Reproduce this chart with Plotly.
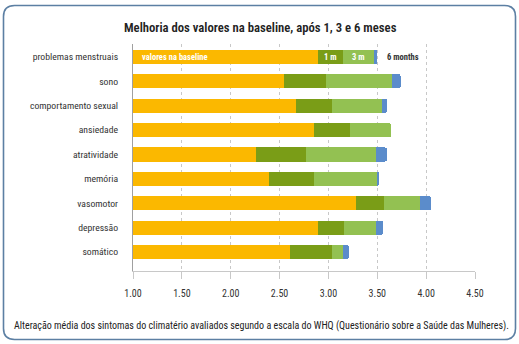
import plotly.graph_objects as go

# WHQ symptom domains, top to bottom
categories = ["problemas menstruais", "sono", "comportamento sexual", "ansiedade",
              "atratividade", "memória", "vasomotor", "depressão", "somático"]
# Mean score at baseline and after 1, 3 and 6 months (cumulative)
baseline = [2.89, 2.55, 2.67, 2.85, 2.26, 2.39, 3.28, 2.89, 2.61]
after_1m = [3.15, 2.98, 3.04, 3.22, 2.77, 2.85, 3.57, 3.16, 3.04]
after_3m = [3.47, 3.65, 3.55, 3.64, 3.49, 3.50, 3.94, 3.49, 3.15]
after_6m = [3.50, 3.74, 3.60, 3.64, 3.60, 3.52, 4.05, 3.56, 3.21]
x_ticks = [1.0, 1.5, 2.0, 2.5, 3.0, 3.5, 4.0, 4.5]

title = "Melhoria dos valores na baseline, após 1, 3 e 6 meses"
caption = ("Alteração média dos sintomas do climatério avaliados segundo a escala do WHQ "
           "(Questionário sobre a Saúde das Mulheres).")

ORANGE, DARK_GREEN, LIGHT_GREEN, BLUE = "#FBB800", "#7A9D17", "#93C152", "#5B8CCB"
FONT = "Liberation Sans Narrow, Roboto Condensed, Roboto, sans-serif"

W, H = 519, 344
L, R, T, B = 133, 44, 44, 73
PW, PH = W - L - R, H - T - B


def px(x, y):
    """Pixel position -> paper coordinates."""
    return (x - L) / PW, (H - B - y) / PH


inc_1m = [a - b for a, b in zip(after_1m, baseline)]
inc_3m = [a - b for a, b in zip(after_3m, after_1m)]
inc_6m = [a - b for a, b in zip(after_6m, after_3m)]

fig = go.Figure()
for name, vals, col in [("baseline", baseline, ORANGE), ("1 m", inc_1m, DARK_GREEN),
                        ("3 m", inc_3m, LIGHT_GREEN), ("6 months", inc_6m, BLUE)]:
    fig.add_trace(go.Bar(y=categories, x=vals, orientation="h", name=name,
                         marker=dict(color=col, line=dict(width=0)),
                         hoverinfo="skip", showlegend=False))

annotations = [
    dict(text="valores na baseline", x=1.07, y=categories[0], xanchor="left",
         font=dict(color="white", size=8.5, family=FONT, weight="bold")),
    dict(text="1 m", x=(baseline[0] + after_1m[0]) / 2, y=categories[0],
         font=dict(color="white", size=8.5, family=FONT, weight="bold")),
    dict(text="3 m", x=(after_1m[0] + after_3m[0]) / 2, y=categories[0],
         font=dict(color="white", size=8.5, family=FONT, weight="bold")),
    dict(text="6 months", x=after_6m[0] + 0.08, y=categories[0], xanchor="left",
         font=dict(color="#333333", size=8.5, family=FONT, weight="bold")),
]
for a in annotations:
    a.update(xref="x", yref="y", showarrow=False)

tx, ty = px(260, 28)
cx, cy = px(261, 326)
annotations += [
    dict(text=title, x=tx, y=ty, xref="paper", yref="paper", showarrow=False,
         xanchor="center", yanchor="middle",
         font=dict(size=12.7, color="#222222", family=FONT, weight=600)),
    dict(text=caption, x=cx, y=cy, xref="paper", yref="paper", showarrow=False,
         xanchor="center", yanchor="middle",
         font=dict(size=10, color="#222222", family=FONT)),
]

# Rounded outer frame
x0, y0 = px(3.5, 5.5)
x1, y1 = px(515.5, 339.5)
rx, ry = 11 / PW, 11 / PH
frame = (f"M {x0+rx},{y0} L {x1-rx},{y0} Q {x1},{y0} {x1},{y0-ry} "
         f"L {x1},{y1+ry} Q {x1},{y1} {x1-rx},{y1} "
         f"L {x0+rx},{y1} Q {x0},{y1} {x0},{y1+ry} "
         f"L {x0},{y0-ry} Q {x0},{y0} {x0+rx},{y0} Z")

fig.update_layout(
    width=W, height=H, margin=dict(l=L, r=R, t=T, b=B),
    paper_bgcolor="white", plot_bgcolor="white",
    barmode="stack", bargap=0.42, barcornerradius=2,
    font=dict(family=FONT, color="#333333"),
    annotations=annotations,
    shapes=[dict(type="path", path=frame, xref="paper", yref="paper",
                 line=dict(color="#5C7FA3", width=1.6), layer="above")],
    xaxis=dict(range=[1.0, 4.5], tickvals=x_ticks, tickformat=".2f",
               showgrid=True, gridcolor="#C8C8C8", griddash="dot", gridwidth=1,
               showline=True, linecolor="#C8C8C8", linewidth=1,
               ticks="outside", ticklen=7, tickcolor="#C8C8C8",
               ticklabelstandoff=6,
               tickfont=dict(size=10, color="#333333", family=FONT),
               zeroline=False, fixedrange=True),
    yaxis=dict(type="category", range=[8.78, -0.53],
               showline=True, linecolor="#A0A0A0", linewidth=1,
               ticks="", ticklabelstandoff=12,
               tickfont=dict(size=9.7, color="#333333", family=FONT),
               showgrid=False, fixedrange=True),
)

fig.write_html("out.html")
